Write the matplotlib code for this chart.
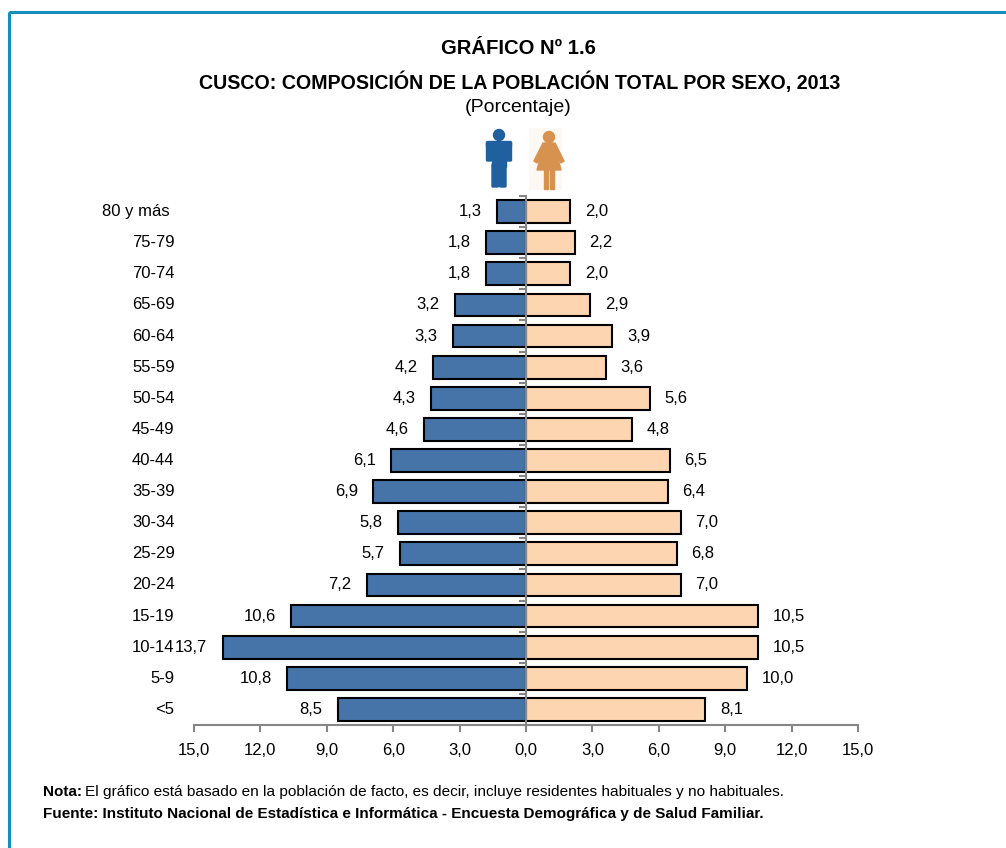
import numpy as np
import matplotlib
matplotlib.use("Agg")
import matplotlib.pyplot as plt
from matplotlib.patches import Rectangle, Circle, Polygon, FancyBboxPatch

plt.rcParams['font.family'] = ['Liberation Sans', 'DejaVu Sans']

grupos = ["80 y más ", "75-79", "70-74", "65-69", "60-64", "55-59", "50-54", "45-49",
          "40-44", "35-39", "30-34", "25-29", "20-24", "15-19", "10-14", "5-9", "<5"]
hombres = [1.3, 1.8, 1.8, 3.2, 3.3, 4.2, 4.3, 4.6, 6.1, 6.9, 5.8, 5.7, 7.2, 10.6, 13.7, 10.8, 8.5]
mujeres = [2.0, 2.2, 2.0, 2.9, 3.9, 3.6, 5.6, 4.8, 6.5, 6.4, 7.0, 6.8, 7.0, 10.5, 10.5, 10.0, 8.1]
ticks = [-15, -12, -9, -6, -3, 0, 3, 6, 9, 12, 15]
etiquetas = ["15,0", "12,0", "9,0", "6,0", "3,0", "0,0", "3,0", "6,0", "9,0", "12,0", "15,0"]

W, H = 1006, 848
fig = plt.figure(figsize=(W / 100, H / 100), dpi=100)

# fondo con el marco azul
bg = fig.add_axes([0, 0, 1, 1])
bg.set_xlim(0, W)
bg.set_ylim(H, 0)
bg.axis("off")
bg.add_patch(Rectangle((9, 11.5), 1100, 1100, fill=False, ec="#1590BE", lw=2.2))

bg.text(518, 48, "GRÁFICO Nº 1.6", ha="center", va="center", fontsize=14.6, fontweight="bold")
bg.text(520, 82, "CUSCO: COMPOSICIÓN DE LA POBLACIÓN TOTAL POR SEXO, 2013", ha="center", va="center",
        fontsize=14.1, fontweight="bold")
bg.text(518, 108, "(Porcentaje)", ha="center", va="center", fontsize=14)

# iconos
azul = "#20609F"
nar = "#D8924F"
bg.add_patch(Rectangle((529, 128), 33, 62, color="#FDF8F4", lw=0))
bg.add_patch(Circle((499, 135), 5.5, color=azul))
bg.add_patch(FancyBboxPatch((488, 143), 22, 3, boxstyle="round,pad=1.5", color=azul))
bg.add_patch(FancyBboxPatch((487.5, 143), 3, 17, boxstyle="round,pad=1", color=azul))
bg.add_patch(FancyBboxPatch((507.5, 143), 3, 17, boxstyle="round,pad=1", color=azul))
bg.add_patch(Rectangle((492, 143), 14, 24, color=azul))
bg.add_patch(FancyBboxPatch((493, 165), 4.5, 21, boxstyle="round,pad=1", color=azul))
bg.add_patch(FancyBboxPatch((500.5, 165), 4.5, 21, boxstyle="round,pad=1", color=azul))
bg.add_patch(Circle((549, 137), 5.5, color=nar))
bg.add_patch(Polygon([[543, 143], [555, 143], [564, 161], [561, 163], [557, 155], [561, 170],
                      [537, 170], [541, 155], [537, 163], [534, 161]], color=nar))
bg.add_patch(Rectangle((544.5, 168), 3.5, 21, color=nar))
bg.add_patch(Rectangle((550.5, 168), 3.5, 21, color=nar))

# ejes: 0 en x=526, 15 en x=858
ax = fig.add_axes([194 / W, 1 - 725 / H, 664 / W, (725 - 196) / H])
y = np.arange(len(grupos))
ax.barh(y, [-v for v in hombres], height=0.73, color="#4674A8", edgecolor="black", lw=1.5)
ax.barh(y, mujeres, height=0.73, color="#FDD5B1", edgecolor="black", lw=1.5)
ax.set_xlim(-15, 15)
ax.set_ylim(len(grupos) - 0.5, -0.5)
ax.patch.set_alpha(0)
for s in ["top", "right", "left"]:
    ax.spines[s].set_visible(False)
ax.spines["bottom"].set_color("#868686")
ax.spines["bottom"].set_linewidth(1.5)
ax.set_xticks(ticks)
ax.set_xticklabels(etiquetas, fontsize=12)
ax.tick_params(axis="x", direction="out", length=5, width=1.5, color="#868686", pad=8)
ax.set_yticks([])

# linea central con marcas
ax.axvline(0, color="#868686", lw=1.5, zorder=5)
for k in np.arange(len(grupos) + 1) - 0.5:
    ax.plot([-0.27, 0], [k, k], color="#868686", lw=1.5, zorder=5, clip_on=False)

for i in y:
    ax.annotate(grupos[i], (-15, i), xytext=(-14, 0), textcoords="offset points", ha="right", va="center", fontsize=12, annotation_clip=False)
    ax.annotate(f"{hombres[i]:.1f}".replace(".", ","), (-hombres[i], i), xytext=(-11, 0), textcoords="offset points", ha="right", va="center", fontsize=12, annotation_clip=False)
    ax.annotate(f"{mujeres[i]:.1f}".replace(".", ","), (mujeres[i], i), xytext=(10.5, 0), textcoords="offset points", ha="left", va="center", fontsize=12)

# notas
bg.text(43, 792, "Nota:", ha="left", va="center", fontsize=11, fontweight="bold")
bg.text(85, 792, "El gráfico está basado en la población de facto, es decir, incluye residentes habituales y no habituales.", ha="left", va="center", fontsize=11.05)
bg.text(43, 814, "Fuente: Instituto Nacional de Estadística e Informática - Encuesta Demográfica y de Salud Familiar.", ha="left", va="center", fontsize=11, fontweight="bold")

fig.savefig("out.png", dpi=100)
